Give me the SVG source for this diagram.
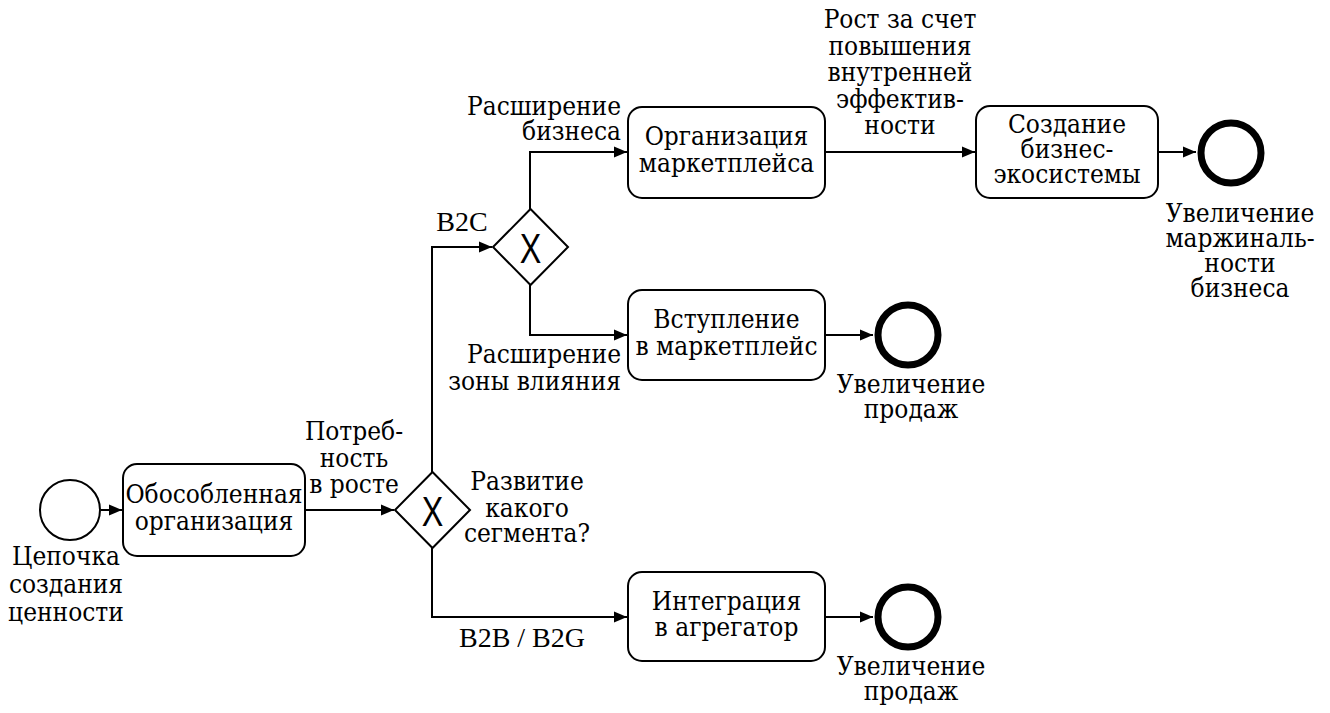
<svg xmlns="http://www.w3.org/2000/svg" width="1330" height="713" viewBox="0 0 1330 713">
  <style>
    text { font-size: 26px; fill: #000; font-family: 'DejaVu Serif Condensed', 'DejaVu Serif', serif; font-stretch: condensed; }
    text.latin { font-family: 'Liberation Serif', 'Times New Roman', serif; font-size: 28px; font-stretch: normal; }
    .mid { text-anchor: middle; }
    .end { text-anchor: end; }
    .task { fill: #fff; stroke: #000; stroke-width: 2; }
    .gw { fill: #fff; stroke: #000; stroke-width: 2; }
    .start { fill: #fff; stroke: #000; stroke-width: 2; }
    .stop { fill: #fff; stroke: #000; stroke-width: 7; }
    .flow { fill: none; stroke: #000; stroke-width: 2; marker-end: url(#arrow); }
    text.xmark { font-family: 'Liberation Sans', sans-serif; font-size: 43px; text-anchor: middle; font-stretch: normal; }
  </style>
  <defs>
    <marker id="arrow" markerUnits="userSpaceOnUse" markerWidth="14" markerHeight="12" refX="13" refY="6" orient="auto">
      <path d="M0,0.5 L13,6 L0,11.5 Z" fill="#000"/>
    </marker>
  </defs>
  <rect width="1330" height="713" fill="#fff"/>

  <!-- sequence flows -->
  <g id="connectors">
    <path class="flow" d="M101,510 L122,510"/>
    <path class="flow" d="M305,510 L394,510"/>
    <path class="flow" d="M432,472 L432,247 L492,247"/>
    <path class="flow" d="M432,548 L432,617 L627,617"/>
    <path class="flow" d="M530,209 L530,152 L627,152"/>
    <path class="flow" d="M530,284 L530,335 L627,335"/>
    <path class="flow" d="M825,152 L975,152"/>
    <path class="flow" d="M1158,152 L1196,152"/>
    <path class="flow" d="M825,335 L873,335"/>
    <path class="flow" d="M825,617 L873,617"/>
  </g>

  <!-- flow labels -->
  <g id="flow-labels">
    <text class="mid"><tspan x="354" y="440">Потреб-</tspan><tspan x="354" y="467">ность</tspan><tspan x="354" y="493">в росте</tspan></text>
    <text class="mid latin" x="462" y="231">B2C</text>
    <text class="mid latin" x="522" y="647">B2B / B2G</text>
    <text class="end"><tspan x="621" y="115">Расширение</tspan><tspan x="621" y="140">бизнеса</tspan></text>
    <text class="end"><tspan x="621" y="363">Расширение</tspan><tspan x="621" y="390">зоны влияния</tspan></text>
    <text class="mid"><tspan x="900" y="28">Рост за счет</tspan><tspan x="900" y="54.5">повышения</tspan><tspan x="900" y="81">внутренней</tspan><tspan x="900" y="107.5">эффектив-</tspan><tspan x="900" y="134">ности</tspan></text>
  </g>

  <!-- start event -->
  <g id="start-event">
    <circle class="start" cx="70" cy="510" r="30"/>
    <text class="mid"><tspan x="66" y="565">Цепочка</tspan><tspan x="66" y="593">создания</tspan><tspan x="66" y="621">ценности</tspan></text>
  </g>

  <!-- tasks -->
  <g id="task-separate">
    <rect class="task" x="123" y="464" width="182" height="92" rx="14"/>
    <text class="mid"><tspan x="214" y="503">Обособленная</tspan><tspan x="214" y="530">организация</tspan></text>
  </g>
  <g id="task-marketplace-org">
    <rect class="task" x="628" y="107" width="197" height="91" rx="14"/>
    <text class="mid"><tspan x="726.5" y="145">Организация</tspan><tspan x="726.5" y="172">маркетплейса</tspan></text>
  </g>
  <g id="task-join-marketplace">
    <rect class="task" x="628" y="290" width="197" height="90" rx="14"/>
    <text class="mid"><tspan x="726.5" y="328">Вступление</tspan><tspan x="726.5" y="355">в маркетплейс</tspan></text>
  </g>
  <g id="task-aggregator">
    <rect class="task" x="628" y="572" width="197" height="89" rx="14"/>
    <text class="mid"><tspan x="726.5" y="610">Интеграция</tspan><tspan x="726.5" y="636">в агрегатор</tspan></text>
  </g>
  <g id="task-ecosystem">
    <rect class="task" x="976" y="106" width="182" height="92" rx="14"/>
    <text class="mid"><tspan x="1067" y="133">Создание</tspan><tspan x="1067" y="158">бизнес-</tspan><tspan x="1067" y="183">экосистемы</tspan></text>
  </g>

  <!-- exclusive gateways -->
  <g id="gateway-segment">
    <path class="gw" d="M432.5,472 L470,510 L432.5,548 L395,510 Z"/>
    <text class="xmark" transform="translate(432.5,526) scale(0.75,1)" x="0" y="0">X</text>
    <text class="mid"><tspan x="527" y="490">Развитие</tspan><tspan x="527" y="517">какого</tspan><tspan x="527" y="542">сегмента?</tspan></text>
  </g>
  <g id="gateway-b2c">
    <path class="gw" d="M530.5,209 L568,247 L530.5,285 L493,247 Z"/>
    <text class="xmark" transform="translate(530.5,263) scale(0.75,1)" x="0" y="0">X</text>
  </g>

  <!-- end events -->
  <g id="end-margin">
    <circle class="stop" cx="1231" cy="153" r="30"/>
    <text class="mid"><tspan x="1240" y="222">Увеличение</tspan><tspan x="1240" y="247">маржиналь-</tspan><tspan x="1240" y="272">ности</tspan><tspan x="1240" y="297">бизнеса</tspan></text>
  </g>
  <g id="end-sales-b2c">
    <circle class="stop" cx="908" cy="335" r="30"/>
    <text class="mid"><tspan x="911" y="393">Увеличение</tspan><tspan x="911" y="418">продаж</tspan></text>
  </g>
  <g id="end-sales-b2b">
    <circle class="stop" cx="908" cy="617" r="30"/>
    <text class="mid"><tspan x="911" y="675">Увеличение</tspan><tspan x="911" y="700">продаж</tspan></text>
  </g>
</svg>
